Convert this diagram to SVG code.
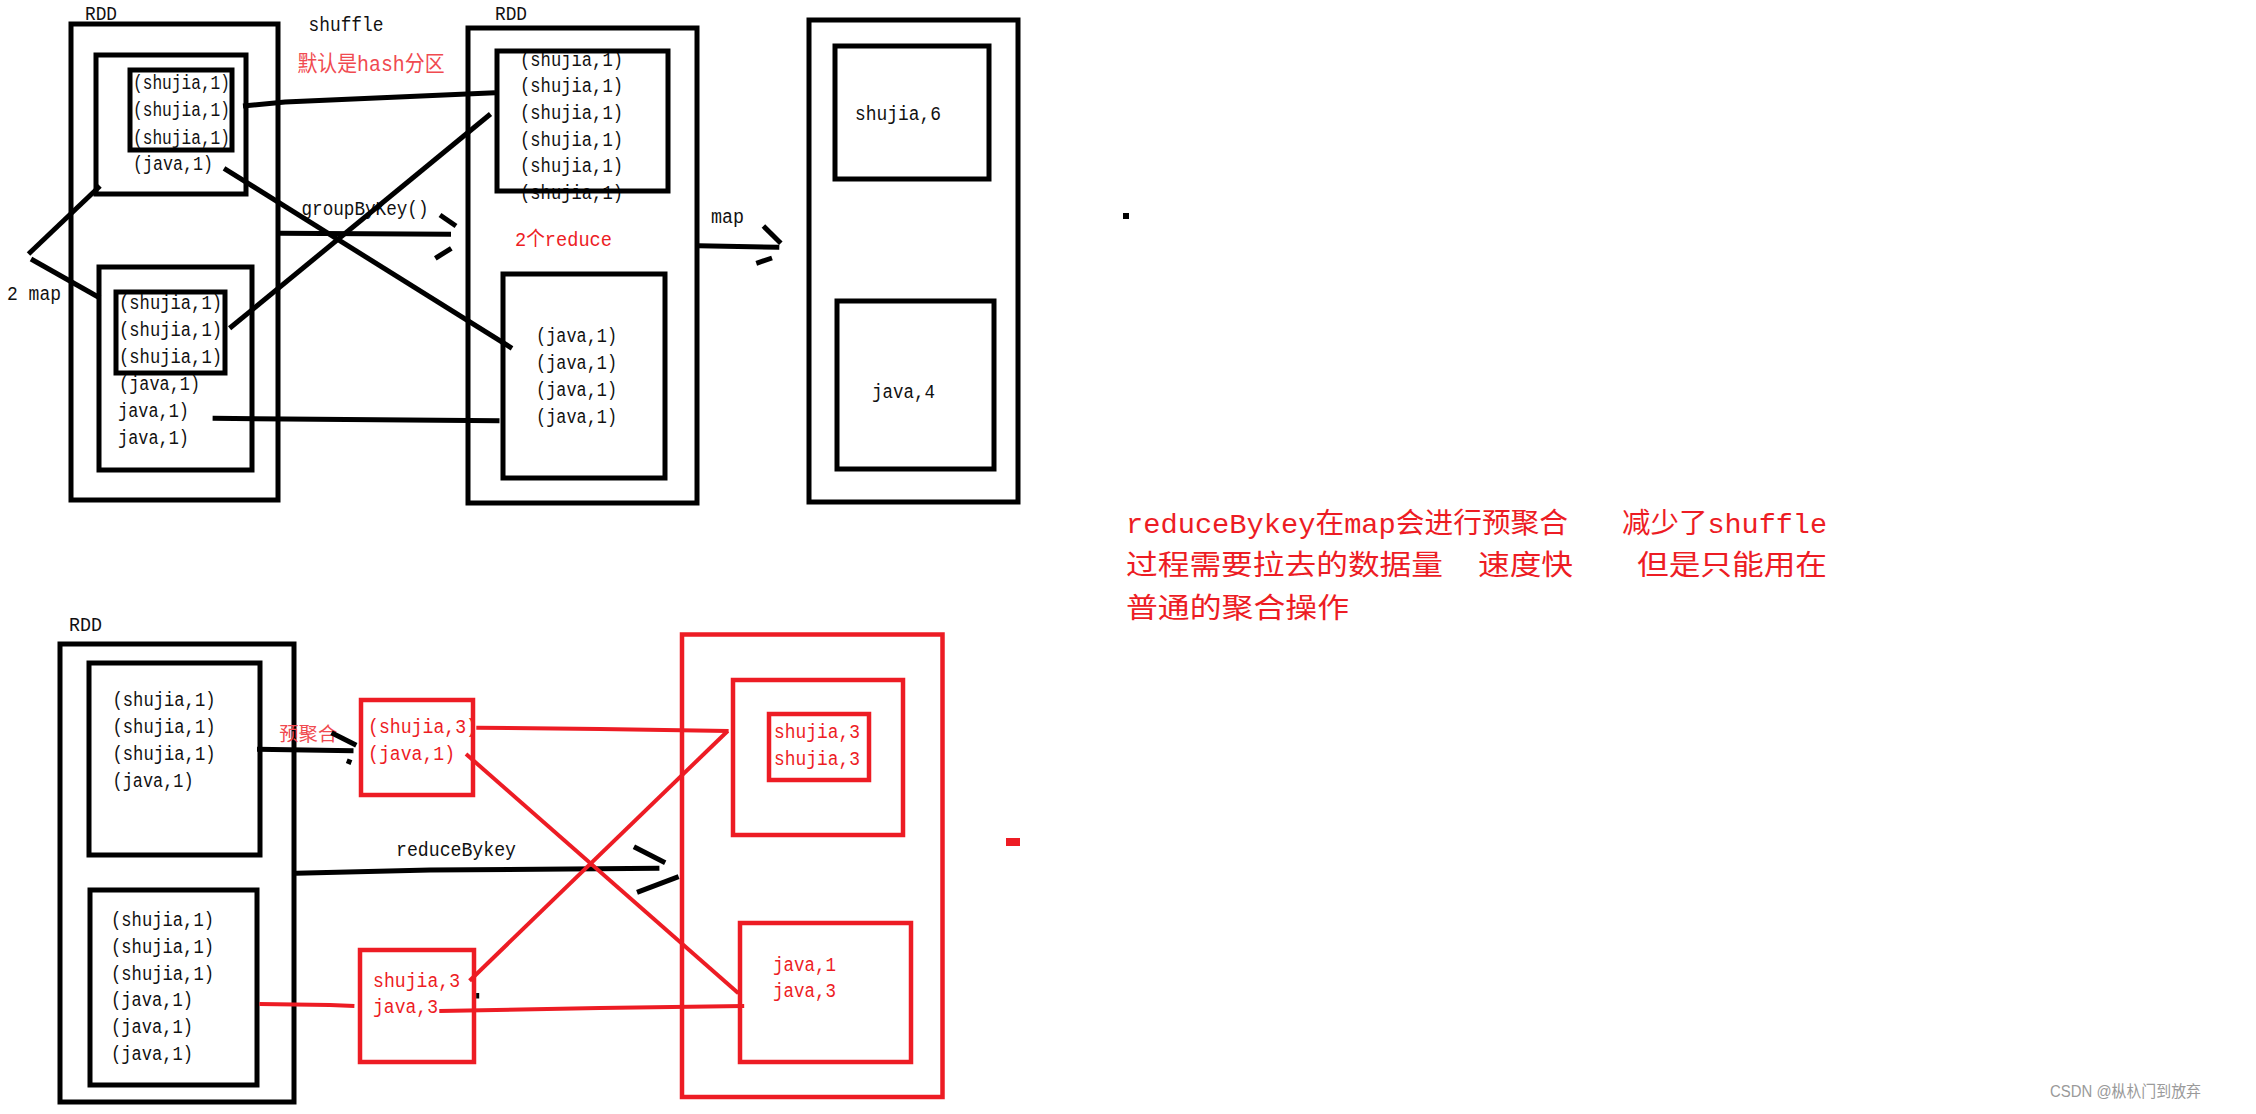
<svg xmlns="http://www.w3.org/2000/svg" width="2256" height="1114" viewBox="0 0 2256 1114">
<style>
text{font-family:"Liberation Mono","Noto Sans CJK SC",monospace;font-size:20px;fill:#111}
.red{fill:#ed1c24}
.pink{fill:#f04a50}
.big{font-size:28px;fill:#ed1c24}
.box{fill:none;stroke:#000;stroke-width:5}
.rbox{fill:none;stroke:#ed1c24;stroke-width:4.5}
.ln{fill:none;stroke:#000;stroke-width:5}
.rln{fill:none;stroke:#ed1c24;stroke-width:4}
.wm{font-family:"Liberation Sans","Noto Sans CJK SC",sans-serif;font-size:16px;fill:#9a9a9a}
</style>
<rect width="2256" height="1114" fill="#fff"/>

<!-- top left RDD -->
<g id="rdd1">
<text x="85" y="20" textLength="32" lengthAdjust="spacingAndGlyphs">RDD</text>
<rect class="box" x="71" y="24" width="207" height="476"/>
<g id="rdd1-p1">
<rect class="box" x="96" y="55" width="150" height="139"/>
<rect class="box" x="130" y="70" width="102" height="80"/>
<text x="133" y="89" textLength="97" lengthAdjust="spacingAndGlyphs">(shujia,1)</text>
<text x="133" y="116" textLength="97" lengthAdjust="spacingAndGlyphs">(shujia,1)</text>
<text x="133" y="144" textLength="97" lengthAdjust="spacingAndGlyphs">(shujia,1)</text>
<text x="133" y="170" textLength="80" lengthAdjust="spacingAndGlyphs">(java,1)</text>
</g>
<g id="rdd1-p2">
<rect class="box" x="99" y="267" width="153" height="203"/>
<rect class="box" x="116" y="292" width="109" height="81"/>
<text x="119" y="309" textLength="103" lengthAdjust="spacingAndGlyphs">(shujia,1)</text>
<text x="119" y="336" textLength="103" lengthAdjust="spacingAndGlyphs">(shujia,1)</text>
<text x="119" y="363" textLength="103" lengthAdjust="spacingAndGlyphs">(shujia,1)</text>
<text x="119" y="390" textLength="81" lengthAdjust="spacingAndGlyphs">(java,1)</text>
<text x="118" y="417" textLength="71" lengthAdjust="spacingAndGlyphs">java,1)</text>
<text x="118" y="444" textLength="71" lengthAdjust="spacingAndGlyphs">java,1)</text>
</g>
</g>

<!-- top middle RDD -->
<g id="rdd2">
<text x="495" y="20" textLength="32" lengthAdjust="spacingAndGlyphs">RDD</text>
<rect class="box" x="468" y="28" width="229" height="475"/>
<g id="rdd2-p1">
<text x="520" y="65.5" textLength="103" lengthAdjust="spacingAndGlyphs">(shujia,1)</text>
<text x="520" y="92" textLength="103" lengthAdjust="spacingAndGlyphs">(shujia,1)</text>
<text x="520" y="119" textLength="103" lengthAdjust="spacingAndGlyphs">(shujia,1)</text>
<text x="520" y="145.5" textLength="103" lengthAdjust="spacingAndGlyphs">(shujia,1)</text>
<text x="520" y="172" textLength="103" lengthAdjust="spacingAndGlyphs">(shujia,1)</text>
<text x="520" y="199" textLength="103" lengthAdjust="spacingAndGlyphs">(shujia,1)</text>
<rect class="box" x="497" y="51" width="171" height="140"/>
</g>
<text class="red" x="515" y="246" textLength="97" lengthAdjust="spacingAndGlyphs">2个reduce</text>
<g id="rdd2-p2">
<rect class="box" x="503" y="274" width="162" height="204"/>
<text x="536" y="342" textLength="81" lengthAdjust="spacingAndGlyphs">(java,1)</text>
<text x="536" y="369" textLength="81" lengthAdjust="spacingAndGlyphs">(java,1)</text>
<text x="536" y="396" textLength="81" lengthAdjust="spacingAndGlyphs">(java,1)</text>
<text x="536" y="423" textLength="81" lengthAdjust="spacingAndGlyphs">(java,1)</text>
</g>
</g>

<!-- top right result -->
<g id="result1">
<rect class="box" x="809" y="20" width="209" height="482"/>
<g id="result1-p1">
<rect class="box" x="835" y="46" width="154" height="133"/>
<text x="855" y="120" textLength="86" lengthAdjust="spacingAndGlyphs">shujia,6</text>
</g>
<g id="result1-p2">
<rect class="box" x="837" y="301" width="157" height="168"/>
<text x="872" y="398" textLength="63" lengthAdjust="spacingAndGlyphs">java,4</text>
</g>
</g>

<!-- bottom left RDD -->
<g id="rdd3">
<text x="69" y="631" textLength="33" lengthAdjust="spacingAndGlyphs">RDD</text>
<rect class="box" x="60" y="644" width="234" height="458"/>
<g id="rdd3-p1">
<rect class="box" x="89" y="663" width="171" height="192"/>
<text x="112.5" y="705.5" textLength="103" lengthAdjust="spacingAndGlyphs">(shujia,1)</text>
<text x="112.5" y="732.5" textLength="103" lengthAdjust="spacingAndGlyphs">(shujia,1)</text>
<text x="112.5" y="759.5" textLength="103" lengthAdjust="spacingAndGlyphs">(shujia,1)</text>
<text x="112.5" y="786.5" textLength="81" lengthAdjust="spacingAndGlyphs">(java,1)</text>
</g>
<g id="rdd3-p2">
<rect class="box" x="90" y="890" width="167" height="195"/>
<text x="111" y="925.5" textLength="103" lengthAdjust="spacingAndGlyphs">(shujia,1)</text>
<text x="111" y="952.5" textLength="103" lengthAdjust="spacingAndGlyphs">(shujia,1)</text>
<text x="111" y="979.5" textLength="103" lengthAdjust="spacingAndGlyphs">(shujia,1)</text>
<text x="111" y="1006" textLength="82" lengthAdjust="spacingAndGlyphs">(java,1)</text>
<text x="111" y="1033" textLength="82" lengthAdjust="spacingAndGlyphs">(java,1)</text>
<text x="111" y="1060" textLength="82" lengthAdjust="spacingAndGlyphs">(java,1)</text>
</g>
</g>

<!-- pre-aggregation boxes -->
<g id="pre1">
<text class="red" x="368" y="733" textLength="109" lengthAdjust="spacingAndGlyphs">(shujia,3)</text>
<text class="red" x="368" y="760" textLength="87" lengthAdjust="spacingAndGlyphs">(java,1)</text>
<rect class="rbox" x="361" y="700" width="112" height="95"/>
</g>
<g id="pre2">
<rect class="rbox" x="360" y="950" width="114" height="112"/>
<text class="red" x="373" y="986.5" textLength="87" lengthAdjust="spacingAndGlyphs">shujia,3</text>
<text class="red" x="373" y="1013" textLength="65" lengthAdjust="spacingAndGlyphs">java,3</text>
</g>

<!-- bottom right result -->
<g id="result2">
<rect class="rbox" x="682" y="634.5" width="260.5" height="462.5"/>
<g id="result2-p1">
<rect class="rbox" x="733" y="680" width="170" height="155"/>
<rect class="rbox" x="769" y="714" width="100" height="66"/>
<text class="red" x="774" y="737.5" textLength="86" lengthAdjust="spacingAndGlyphs">shujia,3</text>
<text class="red" x="774" y="764.5" textLength="86" lengthAdjust="spacingAndGlyphs">shujia,3</text>
</g>
<g id="result2-p2">
<rect class="rbox" x="740" y="923" width="171" height="139"/>
<text class="red" x="773" y="970.5" textLength="63" lengthAdjust="spacingAndGlyphs">java,1</text>
<text class="red" x="773" y="997" textLength="63" lengthAdjust="spacingAndGlyphs">java,3</text>
</g>
</g>

<!-- labels -->
<g id="labels">
<text x="308.5" y="31" textLength="75" lengthAdjust="spacingAndGlyphs">shuffle</text>
<text class="pink" x="297.5" y="71" style="font-size:22px" textLength="147" lengthAdjust="spacingAndGlyphs">默认是hash分区</text>
<text x="301.5" y="215" textLength="127" lengthAdjust="spacingAndGlyphs">groupByKey()</text>
<text x="7" y="300" textLength="54" lengthAdjust="spacingAndGlyphs">2 map</text>
<text x="711" y="222.5" textLength="33" lengthAdjust="spacingAndGlyphs">map</text>
<text x="396" y="856" textLength="120" lengthAdjust="spacingAndGlyphs">reduceBykey</text>
<text class="pink" x="279.3" y="741" style="font-size:19px" textLength="58" lengthAdjust="spacingAndGlyphs">预聚合</text>
</g>

<!-- note -->
<g id="note">
<text class="big" x="1126" y="532.5" textLength="442" lengthAdjust="spacingAndGlyphs">reduceBykey在map会进行预聚合</text>
<text class="big" x="1622" y="532.5" textLength="205" lengthAdjust="spacingAndGlyphs">减少了shuffle</text>
<text class="big" x="1126" y="575" textLength="317" lengthAdjust="spacingAndGlyphs">过程需要拉去的数据量</text>
<text class="big" x="1478" y="575" textLength="95" lengthAdjust="spacingAndGlyphs">速度快</text>
<text class="big" x="1637" y="575" textLength="190" lengthAdjust="spacingAndGlyphs">但是只能用在</text>
<text class="big" x="1126" y="617.5" textLength="223" lengthAdjust="spacingAndGlyphs">普通的聚合操作</text>
</g>

<!-- connectors -->
<g id="connectors">
<line class="ln" x1="28.5" y1="254" x2="100" y2="186"/>
<line class="ln" x1="31" y1="259" x2="100" y2="298"/>
<polyline class="ln" points="243,106 285,102 495,92.7"/>
<line class="ln" x1="224" y1="168.3" x2="512" y2="348.3"/>
<line class="ln" x1="229.6" y1="328.3" x2="490.5" y2="114"/>
<polyline class="ln" points="212.6,418.3 285,419 499.5,420.7"/>
<line class="ln" x1="280" y1="233.3" x2="451" y2="234.3"/>
<line class="ln" x1="440" y1="215" x2="456" y2="226"/>
<line class="ln" x1="435.3" y1="258.3" x2="451.3" y2="248.3"/>
<line class="ln" x1="699" y1="245.7" x2="779.3" y2="247.3"/>
<line class="ln" x1="763.4" y1="226" x2="780.8" y2="243.3"/>
<line class="ln" x1="756.3" y1="263.3" x2="772" y2="258"/>
<rect x="1123" y="213" width="6" height="6" fill="#000"/>

<line class="ln" x1="257" y1="749.3" x2="353.5" y2="750.7"/>
<line class="ln" x1="331.5" y1="732.7" x2="356.3" y2="745.3"/>
<line class="ln" x1="350" y1="759.3" x2="348.2" y2="764"/>
<polyline class="ln" points="296,873.3 430,870 659.4,868.3"/>
<line class="ln" x1="633.9" y1="846.7" x2="665.2" y2="862.7"/>
<line class="ln" x1="637" y1="892.3" x2="678.6" y2="876.7"/>
<line x1="477.7" y1="993" x2="477.7" y2="998.5" stroke="#000" stroke-width="3"/>

<polyline class="rln" points="259.4,1004 330,1005 354.4,1006"/>
<polyline class="rln" points="476.3,727.7 600,729 728.6,731"/>
<line class="rln" x1="466" y1="754" x2="738.4" y2="993.3"/>
<line class="rln" x1="469.6" y1="980.7" x2="727.7" y2="731"/>
<polyline class="rln" points="439.3,1011 600,1008 744.2,1006"/>
<rect x="1006" y="838" width="14" height="8" fill="#ed1c24"/>
</g>

<text class="wm" x="2050" y="1097" textLength="151" lengthAdjust="spacingAndGlyphs">CSDN @枞杁门到放弃</text>
</svg>
